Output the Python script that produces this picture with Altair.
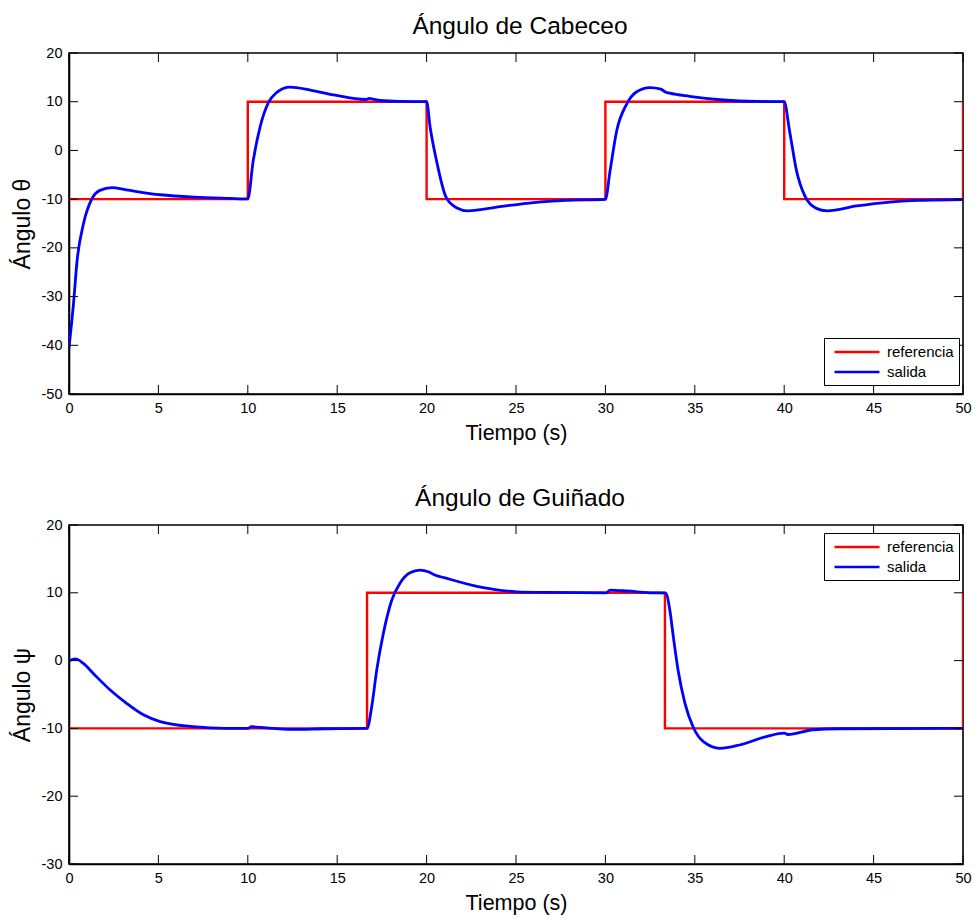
import altair as alt
import pandas as pd

# ---------------- data ----------------
XTICKS = [0, 5, 10, 15, 20, 25, 30, 35, 40, 45, 50]
YTICKS_CAB = [-50, -40, -30, -20, -10, 0, 10, 20]
YTICKS_GUI = [-30, -20, -10, 0, 10, 20]

# Pitch (Cabeceo) reference
t_cab_ref = [0, 10, 10, 20, 20, 30, 30, 40, 40, 50, 50]
v_cab_ref = [-10, -10, 10, 10, -10, -10, 10, 10, -10, -10, 10]
# Pitch output
t_cab_sal = [0.0, 0.25, 0.45, 0.8, 1.27, 1.73, 2.39, 3.2, 5.1, 7.0, 9.0, 10.0,
             10.3, 10.68, 11.15, 11.6, 12.36, 13.5, 14.8, 16.6, 16.8, 17.0, 17.4, 18.5, 20.0,
             20.2, 20.56, 21.1, 21.7, 22.3, 24.1, 26.0, 27.8, 30.0,
             30.26, 30.63, 31.19, 31.75, 32.5, 33.1, 33.35, 33.6, 34.7, 36.6, 38.5, 40.0,
             40.3, 40.69, 41.16, 41.8, 42.4, 44.05, 45.9, 47.8, 50.0]
v_cab_sal = [-40.5, -31.5, -22.7, -15.2, -10.0, -8.2, -7.65, -8.1, -9.1, -9.6, -9.85, -9.95,
             -2.2, 4.7, 9.8, 11.85, 13.0, 12.4, 11.4, 10.45, 10.7, 10.55, 10.25, 10.05, 10.0,
             4.7, -2.2, -9.7, -11.8, -12.4, -11.55, -10.7, -10.25, -10.05,
             -4.2, 4.0, 9.5, 12.05, 12.9, 12.6, 12.0, 11.75, 11.1, 10.35, 10.05, 10.0,
             4.0, -4.2, -9.4, -11.9, -12.4, -11.4, -10.6, -10.25, -10.1]

# Yaw (Guiñado) reference
t_gui_ref = [0, 16.67, 16.67, 33.33, 33.33, 50, 50]
v_gui_ref = [-10, -10, 10, 10, -10, -10, 10]
# Yaw output
t_gui_sal = [0.0, 0.35, 0.8, 1.36, 2.29, 3.22, 4.16, 5.1, 6.95, 8.8, 10.0, 10.2, 10.7, 12.5, 14.4, 16.67,
             16.93, 17.21, 17.58, 18.05, 18.51, 19.07, 19.63, 20.1, 20.37, 21.3, 23.17, 25.03, 26.9,
             30.05, 30.26, 31.0, 32.5, 33.37,
             33.6, 33.8, 34.07, 34.45, 34.9, 35.5, 36.4, 37.5, 39.0, 40.0, 40.2, 41.6, 43.1, 50.0]
v_gui_sal = [0.0, 0.25, -0.4, -1.9, -4.3, -6.3, -8.0, -9.0, -9.75, -10.0, -10.0, -9.75, -9.85, -10.15, -10.05, -10.0,
             -6.8, -1.4, 4.0, 8.9, 11.4, 12.95, 13.35, 13.1, 12.75, 12.0, 10.75, 10.15, 10.05,
             10.0, 10.4, 10.3, 10.0, 9.95,
             7.5, 3.5, -1.5, -6.3, -9.75, -12.0, -12.95, -12.45, -11.2, -10.7, -10.9, -10.2, -10.05, -10.0]

SERIES = ["referencia", "salida"]
COLORS = ["#FF0000", "#0000FF"]

FONT = "Liberation Sans"
W = 894
TICK = 9
LABEL_EXPR = "(datum.value < 0 ? '-' : '') + abs(datum.value)"


def panel(title, ytitle, ydomain, yticks, t_ref, v_ref, t_sal, v_sal, H, leg_y):
    ref = pd.DataFrame({"t": t_ref, "v": v_ref, "i": range(len(t_ref)), "serie": "referencia"})
    sal = pd.DataFrame({"t": t_sal, "v": v_sal, "i": range(len(t_sal)), "serie": "salida"})
    xt = pd.DataFrame({"t": XTICKS})
    yt = pd.DataFrame({"v": yticks})

    xaxis = alt.Axis(values=XTICKS, ticks=False, grid=False, labelFlush=False,
                     labelPadding=7, titlePadding=8, labelExpr=LABEL_EXPR)
    yaxis = alt.Axis(values=yticks, ticks=False, grid=False, labelFlush=False,
                     labelPadding=7, titlePadding=7, labelExpr=LABEL_EXPR,
                     titleFontSize=23)
    xs = alt.Scale(domain=[0, 50], nice=False, zero=False)
    ys = alt.Scale(domain=ydomain, nice=False, zero=False)

    def X():
        return alt.X("t:Q", scale=xs, axis=xaxis, title="Tiempo (s)")

    def Y():
        return alt.Y("v:Q", scale=ys, axis=yaxis, title=ytitle)

    color = alt.Color("serie:N",
                      scale=alt.Scale(domain=SERIES, range=COLORS),
                      legend=alt.Legend(title=None, orient="none", legendX=755, legendY=leg_y))

    ref_l = alt.Chart(ref).mark_line(strokeWidth=2.4, clip=True).encode(
        x=X(), y=Y(), color=color, order="i:Q")
    sal_l = alt.Chart(sal).mark_line(strokeWidth=2.8, interpolate="monotone", clip=True).encode(
        x=X(), y=Y(), color=color, order="i:Q")

    tb = alt.Chart(xt).mark_rule(color="black", strokeWidth=1).encode(
        x=X(), y=alt.value(H), y2=alt.value(H - TICK))
    tt = alt.Chart(xt).mark_rule(color="black", strokeWidth=1).encode(
        x=X(), y=alt.value(0), y2=alt.value(TICK))
    tl = alt.Chart(yt).mark_rule(color="black", strokeWidth=1).encode(
        y=Y(), x=alt.value(0), x2=alt.value(TICK))
    tr = alt.Chart(yt).mark_rule(color="black", strokeWidth=1).encode(
        y=Y(), x=alt.value(W), x2=alt.value(W - TICK))

    return alt.layer(ref_l, sal_l, tb, tt, tl, tr).properties(
        width=W, height=H,
        title=alt.TitleParams(title, fontSize=24.5, font=FONT, fontWeight="normal",
                              color="black", offset=6, dx=4))


top = panel("Ángulo de Cabeceo", "Ángulo θ", [-50, 20], YTICKS_CAB,
            t_cab_ref, v_cab_ref, t_cab_sal, v_cab_sal, 341, 285)
bot = panel("Ángulo de Guiñado", "Ángulo ψ", [-30, 20], YTICKS_GUI,
            t_gui_ref, v_gui_ref, t_gui_sal, v_gui_sal, 339, 8)

chart = alt.vconcat(top, bot, spacing=39).resolve_scale(color="independent").properties(
    padding={"left": 10, "top": 12, "right": 0, "bottom": 0},
    background="white",
).configure_view(
    stroke="black", strokeWidth=1.6
).configure_axis(
    domainColor="black", domainWidth=1.6,
    labelFont=FONT, labelFontSize=14.5, labelColor="black",
    titleFont=FONT, titleFontSize=21.5, titleColor="black", titleFontWeight="normal"
).configure_legend(
    strokeColor="black", fillColor="white", padding=5,
    symbolType="M-3,0H3", symbolSize=225, symbolStrokeWidth=2.6,
    symbolOffset=19, labelOffset=21,
    labelFont=FONT, labelFontSize=15, labelColor="black",
    rowPadding=3, cornerRadius=0
)

chart.save("out.html", embed_options={"renderer": "svg", "actions": False})
